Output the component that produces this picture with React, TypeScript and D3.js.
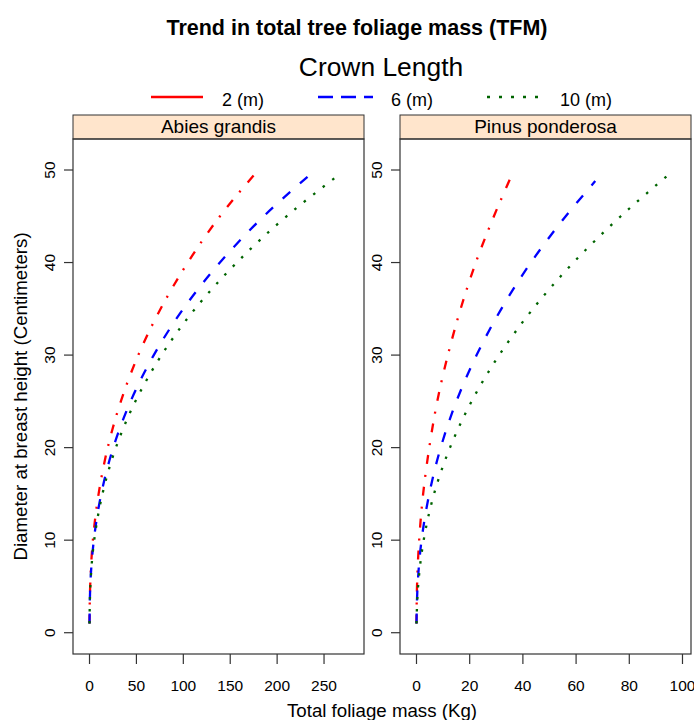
import React from "react";
import * as d3 from "d3";

// Crown length classes and the two species panels
const crownLengths = ["2 (m)", "6 (m)", "10 (m)"];
const speciesNames = ["Abies grandis", "Pinus ponderosa"];

// DBH (cm) along each curve
const dbhA2 = [1, 5, 10, 15, 20, 25, 30, 35, 40, 45, 50];
const dbhA6 = [1, 5, 10, 15, 20, 25, 30, 35, 40, 45, 49.5];
const dbhA10 = [1, 5, 10, 15, 20, 25, 30, 35, 40, 45, 49.3];
const dbhP2 = [1, 5, 10, 15, 20, 25, 30, 35, 40, 45, 49.5];
const dbhP6 = [1, 5, 10, 15, 20, 25, 30, 35, 40, 45, 48.8];
const dbhP10 = [1, 5, 10, 15, 20, 25, 30, 35, 40, 45, 49.5];

// Total foliage mass (kg) at those DBH values
const tfmA2 = [0.0, 0.7, 3.6, 9.7, 19.4, 33.4, 52, 75.8, 104.7, 139, 180];
const tfmA6 = [0.0, 0.8, 4.6, 12.5, 25.3, 43.8, 68.5, 100, 139, 185.7, 235];
const tfmA10 = [0.0, 0.9, 5.0, 13.8, 28.1, 48.9, 76.8, 112.5, 157, 210, 263.5];
const tfmP2 = [0.0, 0.2, 1.0, 2.5, 4.8, 7.8, 11.8, 16.6, 22.3, 29.1, 35.9];
const tfmP6 = [0.0, 0.4, 1.9, 4.8, 9.1, 15.0, 22.6, 31.9, 43.0, 56.1, 67.2];
const tfmP10 = [0.0, 0.6, 2.7, 6.6, 12.6, 20.7, 31.1, 43.8, 59.0, 76.8, 94.8];

// Axis ticks
const xTicksA = [0, 50, 100, 150, 200, 250];
const xTicksP = [0, 20, 40, 60, 80, 100];
const yTicks = [0, 10, 20, 30, 40, 50];

const W = 694;
const H = 720;
const FONT = "'Liberation Sans', Arial, sans-serif";

const colors = ["#FF0000", "#0000FF", "#006400"];
const plotDash = ["9,10,2,11", "10,13", "2.5,9.5"];
const legendDash = [null, "15,8", "3,9"];

const top = 139;
const bottom = 654;
const stripTop = 115;

const panels = [
  {
    name: speciesNames[0],
    x0: 73,
    x1: 364,
    domain: [-17.6, 292.6],
    ticks: xTicksA,
    series: [
      { dbh: dbhA2, tfm: tfmA2 },
      { dbh: dbhA6, tfm: tfmA6 },
      { dbh: dbhA10, tfm: tfmA10 },
    ],
  },
  {
    name: speciesNames[1],
    x0: 400,
    x1: 691,
    domain: [-6.2, 103.2],
    ticks: xTicksP,
    series: [
      { dbh: dbhP2, tfm: tfmP2 },
      { dbh: dbhP6, tfm: tfmP6 },
      { dbh: dbhP10, tfm: tfmP10 },
    ],
  },
];

const legendItems = [
  { lx0: 151, lx1: 203, tx: 222 },
  { lx0: 318, lx1: 373, tx: 391 },
  { lx0: 487, lx1: 540, tx: 560 },
];

export default function App() {
  const y = d3.scaleLinear().domain([-2.3, 53.35]).range([bottom, top]);

  return (
    <svg
      width={W}
      height={H}
      style={{ position: "absolute", left: 0, top: 0, background: "#fff" }}
      fontFamily={FONT}
    >
      <rect x={0} y={0} width={W} height={H} fill="#fff" />
      <text x={357} y={35} textAnchor="middle" fontWeight="bold" fontSize={21.5}>
        Trend in total tree foliage mass (TFM)
      </text>
      <text x={381} y={76} textAnchor="middle" fontSize={26.4}>
        Crown Length
      </text>
      {legendItems.map((it, i) => (
        <g key={i}>
          <line
            x1={it.lx0}
            x2={it.lx1}
            y1={97}
            y2={97}
            stroke={colors[i]}
            strokeWidth={2.5}
            strokeDasharray={legendDash[i] ?? undefined}
          />
          <text x={it.tx} y={106} fontSize={18}>
            {crownLengths[i]}
          </text>
        </g>
      ))}

      {panels.map((p, pi) => {
        const x = d3.scaleLinear().domain(p.domain).range([p.x0, p.x1]);
        const line = d3
          .line<[number, number]>()
          .x((d) => x(d[1]))
          .y((d) => y(d[0]))
          .curve(d3.curveMonotoneY);
        return (
          <g key={pi}>
            <defs>
              <clipPath id={`clip${pi}`}>
                <rect x={p.x0} y={top} width={p.x1 - p.x0} height={bottom - top} />
              </clipPath>
            </defs>
            {/* strip */}
            <rect
              x={p.x0}
              y={stripTop}
              width={p.x1 - p.x0}
              height={top - stripTop}
              fill="#FFE5CC"
              stroke="#333"
              strokeWidth={1}
            />
            <text
              x={(p.x0 + p.x1) / 2}
              y={top - 6}
              textAnchor="middle"
              fontSize={19}
            >
              {p.name}
            </text>
            {/* series */}
            <g clipPath={`url(#clip${pi})`}>
              {p.series.map((s, si) => {
                const pts = s.dbh.map((d, k) => [d, s.tfm[k]] as [number, number]);
                return (
                  <path
                    key={si}
                    d={line(pts) ?? ""}
                    fill="none"
                    stroke={colors[si]}
                    strokeWidth={2.3}
                    strokeDasharray={plotDash[si]}
                  />
                );
              })}
            </g>
            {/* panel frame */}
            <rect
              x={p.x0}
              y={top}
              width={p.x1 - p.x0}
              height={bottom - top}
              fill="none"
              stroke="#333"
              strokeWidth={1.2}
            />
            {/* x axis */}
            {p.ticks.map((t) => (
              <g key={t}>
                <line x1={x(t)} x2={x(t)} y1={bottom} y2={bottom + 10} stroke="#333" strokeWidth={1.2} />
                <text x={x(t)} y={691} textAnchor="middle" fontSize={15.5}>
                  {t}
                </text>
              </g>
            ))}
            {/* y axis */}
            {yTicks.map((t) => (
              <g key={t}>
                <line x1={p.x0 - 9} x2={p.x0} y1={y(t)} y2={y(t)} stroke="#333" strokeWidth={1.2} />
                <text
                  transform={`translate(${p.x0 - 18},${y(t)}) rotate(-90)`}
                  textAnchor="middle"
                  fontSize={15.5}
                >
                  {t}
                </text>
              </g>
            ))}
          </g>
        );
      })}

      <text x={382} y={717} textAnchor="middle" fontSize={18.7}>
        Total foliage mass (Kg)
      </text>
      <text
        transform={`translate(27,${(top + bottom) / 2}) rotate(-90)`}
        textAnchor="middle"
        fontSize={18.7}
      >
        Diameter at breast height (Centimeters)
      </text>
    </svg>
  );
}
